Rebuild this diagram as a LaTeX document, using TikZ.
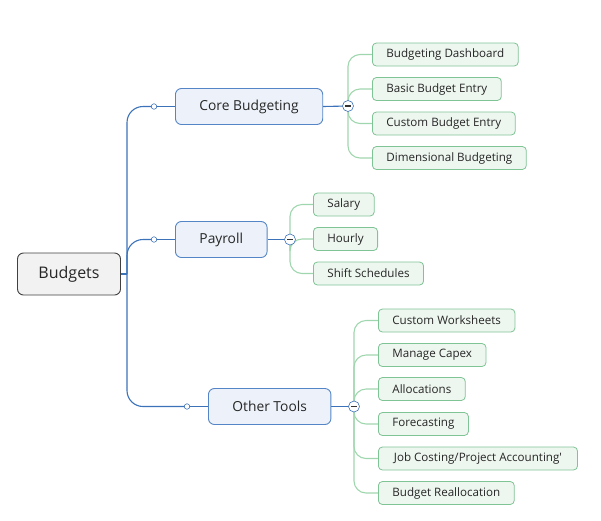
\documentclass[tikz,border=0pt]{standalone}
\usepackage{fontspec}
\setmainfont{Open Sans}
\usetikzlibrary{positioning}
\usetikzlibrary{backgrounds}

\definecolor{bluelink}{HTML}{3C72B8}
\definecolor{bluefill}{HTML}{EDF2FA}
\definecolor{blueedge}{HTML}{5485C6}
\definecolor{greenlink}{HTML}{9FD6AE}
\definecolor{greenfill}{HTML}{EDF6EF}
\definecolor{greenedge}{HTML}{7FC495}
\definecolor{textgray}{HTML}{262626}

\begin{document}
\begin{tikzpicture}[x=1pt,y=-1pt,font=\fontsize{11.6}{13}\selectfont,text=textgray,
    root/.style={draw=black!75,fill=black!5,line width=0.9pt,rounded corners=6pt,minimum height=42pt,inner xsep=21pt,font=\fontsize{16}{18}\selectfont},
    branch/.style={draw=blueedge,fill=bluefill,line width=0.9pt,rounded corners=6pt,minimum height=36pt,inner xsep=24pt,font=\fontsize{13.8}{15}\selectfont,anchor=west},
    leaf/.style={draw=greenedge,fill=greenfill,line width=0.8pt,rounded corners=4pt,minimum height=23pt,inner xsep=14pt,anchor=west},
    knob/.style={circle,draw=bluelink,fill=white,inner sep=0pt,minimum size=5.5pt,semithick},
    toggle/.style={circle,draw=bluelink,fill=white,inner sep=0pt,minimum size=11pt,semithick,
        path picture={\draw[line width=1.3pt,black!80] ([xshift=-2.6pt]path picture bounding box.center) -- ([xshift=2.6pt]path picture bounding box.center);}},
    bluewire/.style={draw=bluelink,line width=1.1pt,rounded corners=16pt},
    greenwire/.style={draw=greenlink,line width=1.1pt,rounded corners=12pt}]
    \useasboundingbox (0,0) rectangle (601,520);

    % main topic and branches
    \node (Budgets) [root] at (69,274) {Budgets};
    \coordinate (trunk) at (127,274);
    \node (Core)   [branch] at (175,106.5) {Core Budgeting};
    \node (Payroll)[branch] at (175,239.5) {Payroll};
    \node (Other)  [branch] at (208,406.5) {Other Tools};
    \node (kCore)   [knob] at (154,106.5) {};
    \node (kPayroll)[knob] at (154,239.5) {};
    \node (kOther)  [knob] at (187,406.5) {};
    \node (tCore)   [toggle] at (348,106) {};
    \node (tPayroll)[toggle] at (290,239.5) {};
    \node (tOther)  [toggle] at (354,406.5) {};

    % leaves
    \node (dash)   [leaf] at (372,54.5)  {Budgeting Dashboard};
    \node (basic)  [leaf] at (372,89)    {Basic Budget Entry};
    \node (custom) [leaf] at (372,123.5) {Custom Budget Entry};
    \node (dim)    [leaf] at (372,158)   {Dimensional Budgeting};
    \node (salary) [leaf] at (313,204.5) {Salary};
    \node (hourly) [leaf] at (313,239)   {Hourly};
    \node (shift)  [leaf] at (313,273.5) {Shift Schedules};
    \node (sheets) [leaf] at (378,320.5) {Custom Worksheets};
    \node (capex)  [leaf] at (378,355)   {Manage Capex};
    \node (alloc)  [leaf] at (378,389)   {Allocations};
    \node (fcast)  [leaf] at (378,424)   {Forecasting};
    \node (job)    [leaf,inner xsep=15.5pt] at (378,458.5) {Job Costing/Project Accounting\textquotesingle};
    \node (realloc)[leaf] at (378,493)   {Budget Reallocation};

    \begin{scope}[on background layer]
        \draw [draw=bluelink,line width=1.8pt] (Budgets.east) -- (trunk);
        \foreach \k in {kCore,kPayroll,kOther}
            \draw [bluewire] (trunk) |- (\k.center);
        \draw [bluewire] (kCore.center) -- (Core.west);
        \draw [bluewire] (kPayroll.center) -- (Payroll.west);
        \draw [bluewire] (kOther.center) -- (Other.west);
        \draw [bluewire] (Core.east) -- (tCore.center);
        \draw [bluewire] (Payroll.east) -- (tPayroll.center);
        \draw [bluewire] (Other.east) -- (tOther.center);
        \foreach \l in {dash,basic,custom,dim}
            \draw [greenwire] (tCore.center) |- (\l.west);
        \foreach \l in {salary,hourly,shift}
            \draw [greenwire] (tPayroll.center) |- (\l.west);
        \foreach \l in {sheets,capex,alloc,fcast,job,realloc}
            \draw [greenwire] (tOther.center) |- (\l.west);
    \end{scope}
\end{tikzpicture}
\end{document}
